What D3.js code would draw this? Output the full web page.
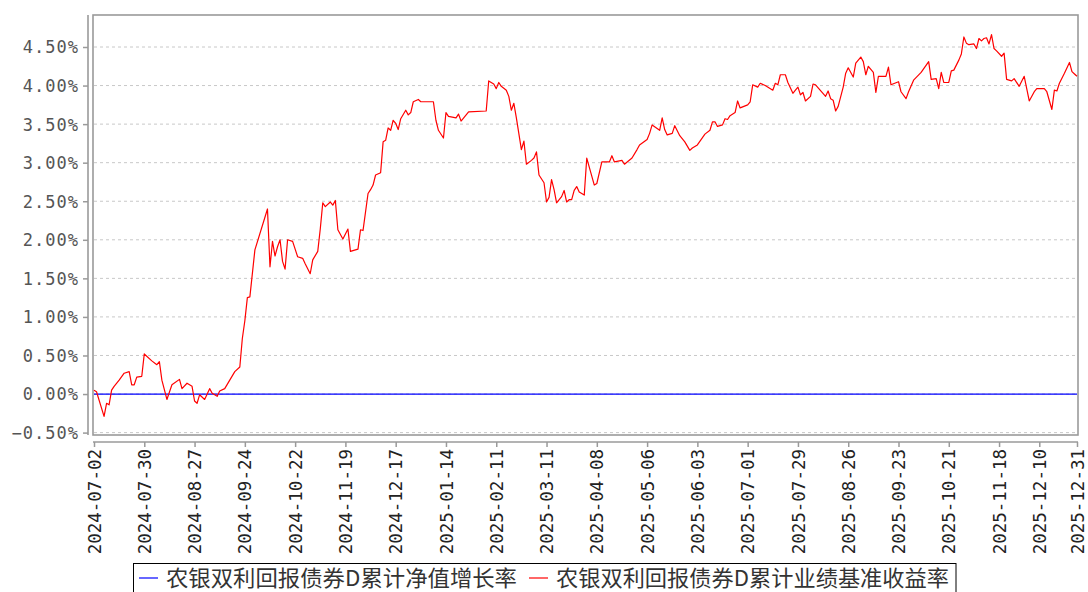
<!DOCTYPE html>
<html>
<head>
<meta charset="utf-8">
<script src="https://cdn.jsdelivr.net/npm/d3@7"></script>
<style>
  body { margin: 0; background: #ffffff; }
  svg { display: block; }
</style>
</head>
<body>
<div id="chart"></div>
<script>

var width = 1088;
var height = 592;

// x axis = trading day number since 2024-07-02
var tickDays = [0, 20, 40, 60, 80, 100, 120, 140, 160, 180, 200, 220, 240, 260, 280, 300, 320, 340, 360, 376, 391];
var tickLabels = ["2024-07-02", "2024-07-30", "2024-08-27", "2024-09-24", "2024-10-22", "2024-11-19",
                  "2024-12-17", "2025-01-14", "2025-02-11", "2025-03-11", "2025-04-08", "2025-05-06",
                  "2025-06-03", "2025-07-01", "2025-07-29", "2025-08-26", "2025-09-23", "2025-10-21",
                  "2025-11-18", "2025-12-10", "2025-12-31"];
var yTicks = [-0.5, 0, 0.5, 1, 1.5, 2, 2.5, 3, 3.5, 4, 4.5];

var seriesNames = ["农银双利回报债券D累计净值增长率", "农银双利回报债券D累计业绩基准收益率"];
var seriesColors = ["#0000ff", "#ff0000"];

// 累计净值增长率 (%)
var navDays = [0, 391];
var navValues = [0, 0];

// 累计业绩基准收益率 (%)
var benchDays = [0, 1, 4, 5, 6, 7, 8, 10, 12, 14, 15, 16, 17, 19, 20, 23, 25, 26, 27, 29,
  31, 34, 35, 37, 39, 40, 41, 42, 44, 46, 47, 49, 50, 52, 56, 58, 59, 60, 61, 62,
  64, 69, 70, 71, 72, 73, 74, 75, 76, 77, 79, 81, 83, 84, 86, 87, 89, 90, 91, 92,
  94, 95, 96, 97, 99, 101, 102, 105, 106, 107, 109, 110, 111, 112, 114, 115, 116, 117, 118, 119,
  120, 121, 122, 124, 125, 126, 127, 129, 130, 135, 136, 137, 139, 140, 141, 144, 145, 146, 149, 156,
  157, 159, 160, 161, 162, 164, 165, 166, 167, 168, 170, 171, 172, 174, 175, 176, 177, 179, 180, 181,
  182, 183, 184, 186, 187, 188, 189, 190, 191, 192, 193, 195, 196, 199, 200, 202, 205, 206, 207, 210,
  211, 214, 216, 217, 220, 221, 222, 225, 226, 227, 228, 230, 231, 233, 235, 237, 238, 240, 243, 245,
  246, 247, 248, 250, 251, 252, 253, 255, 256, 257, 260, 261, 262, 264, 265, 267, 270, 271, 272, 273,
  275, 276, 278, 279, 280, 281, 282, 283, 285, 286, 287, 291, 292, 293, 294, 295, 296, 298, 299, 300,
  302, 303, 305, 306, 307, 308, 310, 311, 312, 315, 316, 317, 320, 321, 323, 324, 326, 329, 332, 333,
  335, 336, 337, 338, 340, 341, 342, 344, 345, 346, 347, 348, 350, 351, 352, 353, 354, 355, 356, 357,
  358, 359, 361, 362, 363, 365, 366, 368, 370, 372, 374, 375, 378, 379, 381, 382, 383, 384, 386, 388,
  389, 390, 391];
var benchValues = [0.05, 0.03, -0.29, -0.12, -0.14, 0.05, 0.10, 0.18, 0.27, 0.29, 0.12, 0.12, 0.22, 0.23, 0.52, 0.43, 0.38, 0.42, 0.18, -0.07,
  0.12, 0.19, 0.07, 0.14, 0.10, -0.09, -0.12, -0.01, -0.07, 0.07, 0.01, -0.03, 0.04, 0.07, 0.29, 0.35, 0.72, 0.95, 1.25, 1.26,
  1.87, 2.40, 1.65, 1.98, 1.79, 1.91, 2.00, 1.72, 1.62, 2.00, 1.98, 1.78, 1.76, 1.69, 1.56, 1.74, 1.85, 2.14, 2.48, 2.43,
  2.49, 2.45, 2.51, 2.13, 2.01, 2.14, 1.85, 1.88, 2.13, 2.12, 2.60, 2.65, 2.71, 2.84, 2.87, 3.27, 3.29, 3.45, 3.42, 3.55,
  3.51, 3.43, 3.57, 3.68, 3.62, 3.65, 3.79, 3.82, 3.79, 3.79, 3.55, 3.42, 3.32, 3.65, 3.60, 3.58, 3.63, 3.54, 3.66, 3.67,
  4.06, 4.02, 3.96, 4.04, 3.99, 3.94, 3.86, 3.68, 3.77, 3.58, 3.17, 3.28, 2.98, 3.03, 3.06, 3.14, 2.84, 2.74, 2.49, 2.55,
  2.78, 2.65, 2.48, 2.56, 2.64, 2.49, 2.52, 2.52, 2.64, 2.69, 2.62, 2.58, 3.06, 2.71, 2.73, 3.01, 3.01, 3.09, 3.01, 3.03,
  2.98, 3.06, 3.17, 3.23, 3.30, 3.38, 3.49, 3.42, 3.58, 3.43, 3.36, 3.38, 3.48, 3.35, 3.27, 3.16, 3.19, 3.23, 3.37, 3.42,
  3.53, 3.53, 3.47, 3.49, 3.57, 3.56, 3.61, 3.65, 3.80, 3.71, 3.75, 3.79, 4.01, 3.98, 4.03, 4.00, 3.94, 4.03, 4.01, 4.14,
  4.14, 4.04, 3.90, 3.94, 3.98, 3.88, 3.91, 3.80, 3.86, 4.02, 4.01, 3.86, 3.93, 3.83, 3.81, 3.67, 3.73, 3.98, 4.16, 4.23,
  4.11, 4.29, 4.37, 4.31, 4.14, 4.25, 4.17, 3.91, 4.12, 4.12, 4.24, 4.01, 4.05, 3.92, 3.83, 3.92, 4.07, 4.17, 4.31, 4.08,
  4.09, 3.96, 4.17, 4.04, 4.04, 4.19, 4.20, 4.33, 4.41, 4.63, 4.55, 4.53, 4.54, 4.48, 4.61, 4.58, 4.61, 4.62, 4.54, 4.66,
  4.48, 4.45, 4.38, 4.42, 4.08, 4.06, 4.09, 3.99, 4.12, 3.80, 3.92, 3.96, 3.96, 3.92, 3.69, 3.94, 3.93, 4.03, 4.16, 4.30,
  4.18, 4.15, 4.12];

var frame = {left: 93, top: 15, right: 1078, bottom: 435};
var legendTextWidth = [351, 393];

function draw_chart() {

    var svg = d3.select("#chart").append("svg")
        .attr("width", width)
        .attr("height", height);

    var x = d3.scaleLinear().domain([0, 391]).range([94, 1077]);
    var y = d3.scaleLinear().domain([-0.5, 4.5]).range([432.6, 47]);

    // dashed grid
    svg.append("g")
        .selectAll("line")
        .data(yTicks)
      .enter().append("line")
        .attr("x1", frame.left + 1)
        .attr("x2", frame.right - 1)
        .attr("y1", function(d) { return y(d); })
        .attr("y2", function(d) { return y(d); })
        .attr("stroke", "#c8c8c8")
        .attr("stroke-width", 1)
        .attr("stroke-dasharray", "3,3");

    // plot frame
    svg.append("rect")
        .attr("x", frame.left)
        .attr("y", frame.top)
        .attr("width", frame.right - frame.left)
        .attr("height", frame.bottom - frame.top)
        .attr("fill", "none")
        .attr("stroke", "#9a9a9a")
        .attr("stroke-width", 1.6);

    // y axis, offset left of the frame
    var yAxis = d3.axisLeft(y)
        .tickValues(yTicks)
        .tickSize(5)
        .tickPadding(4)
        .tickFormat(function(d) { return d3.format(".2f")(d) + "%"; });

    var gy = svg.append("g")
        .attr("transform", "translate(88,0)")
        .call(yAxis);
    gy.select(".domain")
        .attr("d", "M0," + frame.top + "V" + frame.bottom)
        .attr("stroke", "#9a9a9a")
        .attr("stroke-width", 1.6);
    gy.selectAll(".tick line").attr("stroke", "#9a9a9a").attr("stroke-width", 1.5);
    gy.selectAll(".tick text")
        .attr("fill", "#555555")
        .style("font-family", "'DejaVu Sans Mono', monospace")
        .style("font-size", "17px")
        .style("letter-spacing", "1px")
        .attr("dy", "0.35em");

    // x axis, offset below the frame
    var xAxis = d3.axisBottom(x)
        .tickValues(tickDays)
        .tickSize(5)
        .tickFormat(function(d, i) { return tickLabels[i]; });

    var gx = svg.append("g")
        .attr("transform", "translate(0,442)")
        .call(xAxis);
    gx.select(".domain")
        .attr("d", "M" + frame.left + ",0H" + frame.right)
        .attr("stroke", "#9a9a9a")
        .attr("stroke-width", 1.6);
    gx.selectAll(".tick line").attr("stroke", "#9a9a9a").attr("stroke-width", 1.5);
    gx.selectAll(".tick text")
        .attr("fill", "#222222")
        .style("font-family", "'DejaVu Sans Mono', monospace")
        .style("font-size", "17.5px")
        .attr("text-anchor", "end")
        .attr("transform", "rotate(-90)")
        .attr("x", -7)
        .attr("y", 0)
        .attr("dy", "0.35em");

    var line = d3.line()
        .x(function(d) { return x(d[0]); })
        .y(function(d) { return y(d[1]); });

    var navData = navDays.map(function(d, i) { return [d, navValues[i]]; });
    var benchData = benchDays.map(function(d, i) { return [d, benchValues[i]]; });

    svg.append("path")
        .datum(navData)
        .attr("fill", "none")
        .attr("stroke", seriesColors[0])
        .attr("stroke-width", 1.2)
        .attr("d", line);

    svg.append("path")
        .datum(benchData)
        .attr("fill", "none")
        .attr("stroke", seriesColors[1])
        .attr("stroke-width", 1.2)
        .attr("stroke-linejoin", "round")
        .attr("d", line);

    draw_legend(svg);
}

function draw_legend(svg) {

    var legend = svg.append("g");
    var box = legend.append("rect")
        .attr("x", 133.5)
        .attr("y", 563.5)
        .attr("height", 40)
        .attr("fill", "#ffffff")
        .attr("stroke", "#000000")
        .attr("stroke-width", 1);

    var cx = 139;
    seriesNames.forEach(function(name, i) {
        legend.append("line")
            .attr("x1", cx)
            .attr("x2", cx + 19)
            .attr("y1", 578)
            .attr("y2", 578)
            .attr("stroke", seriesColors[i])
            .attr("stroke-width", 1.2);
        legend.append("text")
            .attr("x", cx + 27)
            .attr("y", 578)
            .attr("dy", "0.36em")
            .attr("fill", "#333333")
            .attr("textLength", legendTextWidth[i])
            .attr("lengthAdjust", "spacingAndGlyphs")
            .style("font-family", "'Noto Sans CJK SC', sans-serif")
            .style("font-size", "22px")
            .text(name);
        cx = cx + 27 + legendTextWidth[i] + 12;
    });

    box.attr("width", cx - 133.5 - 5);
}

draw_chart();

</script>
</body>
</html>
